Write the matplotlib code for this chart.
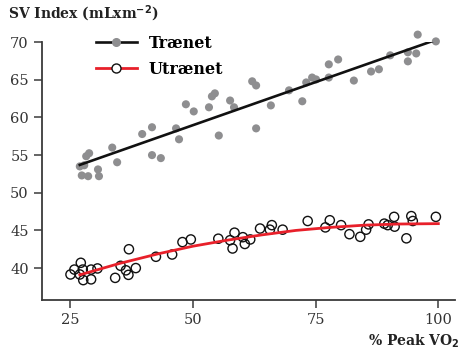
import matplotlib
matplotlib.use("Agg")
import matplotlib.pyplot as plt
from matplotlib.lines import Line2D

# trained group (grey dots)
tr_x = [27.0, 27.9, 28.3, 28.9, 27.4, 28.7, 30.7, 30.9, 33.6, 34.6, 39.7, 41.7, 41.7,
        43.5, 46.6, 47.2, 48.6, 50.2, 53.3, 53.9, 54.5, 55.3, 57.6, 58.4, 62.1, 62.9,
        62.9, 65.9, 69.6, 72.3, 73.1, 74.3, 75.1, 77.7, 77.7, 79.6, 82.8, 86.3, 87.9,
        90.2, 93.8, 93.8, 95.8, 95.5, 99.5]
tr_y = [53.5, 53.65, 54.85, 55.25, 52.3, 52.2, 53.1, 52.2, 56.0, 54.05, 57.8, 58.7, 55.0,
        54.6, 58.55, 57.1, 61.75, 60.8, 61.35, 62.8, 63.2, 57.6, 62.25, 61.35, 64.8, 64.25,
        58.55, 61.6, 63.6, 62.15, 64.65, 65.3, 65.05, 67.05, 65.3, 67.7, 64.9, 66.1, 66.4,
        68.25, 68.65, 67.45, 71.0, 68.5, 70.1]
tr_fit_x = [27.0, 99.5]
tr_fit_y = [53.7, 70.3]

# untrained group (open circles)
ut_x = [25.1, 25.9, 27.2, 27.0, 27.6, 27.7, 29.3, 29.3, 30.6, 34.2, 35.3, 36.4, 36.9,
        37.0, 38.4, 42.5, 45.8, 47.9, 49.6, 55.2, 57.6, 58.1, 58.5, 60.2, 60.6, 61.7,
        63.7, 65.7, 66.1, 68.3, 73.4, 77.0, 77.9, 80.2, 81.9, 84.1, 85.3, 85.8, 89.0,
        89.7, 91.1, 91.0, 93.5, 94.5, 94.8, 99.5]
ut_y = [39.15, 39.8, 40.7, 39.15, 39.8, 38.4, 39.8, 38.5, 39.95, 38.7, 40.3, 39.7, 39.1,
        42.5, 40.0, 41.5, 41.8, 43.45, 43.8, 43.9, 43.7, 42.6, 44.7, 44.1, 43.2, 43.8,
        45.25, 45.1, 45.7, 45.1, 46.25, 45.4, 46.35, 45.7, 44.5, 44.15, 45.1, 45.8, 45.9,
        45.7, 45.5, 46.8, 43.95, 46.9, 46.25, 46.8]
ut_fit_x = [27, 35, 43, 50, 57, 64, 71, 78, 85, 92, 100]
ut_fit_y = [39.1, 40.6, 41.9, 42.9, 43.7, 44.4, 45.0, 45.4, 45.7, 45.85, 45.9]

xticks = [25, 50, 75, 100]
yticks = [40, 45, 50, 55, 60, 65, 70]

plt.rcParams['font.family'] = ['DejaVu Serif']
grey = '#8e8e90'
axcol = '#3a3a3a'

fig = plt.figure(figsize=(4.62, 3.51), dpi=100)
ax = fig.add_axes([0.0909, 0.1453, 0.894, 0.7357])

ax.scatter(tr_x, tr_y, s=34, color=grey, edgecolors='none', zorder=2, clip_on=False)
ax.plot(tr_fit_x, tr_fit_y, color='#111111', lw=1.9, zorder=3)
ax.scatter(ut_x, ut_y, s=44, facecolors='none', edgecolors='#111111', linewidths=1.0,
           zorder=2, clip_on=False)
ax.plot(ut_fit_x, ut_fit_y, color='#e8202a', lw=2.0, zorder=3)

ax.set_xlim(19.3, 103.4)
ax.set_ylim(35.76, 70.05)
ax.set_xticks(xticks)
ax.set_yticks(yticks)
for s in ['top', 'right']:
    ax.spines[s].set_visible(False)
for s in ['left', 'bottom']:
    ax.spines[s].set_color(axcol)
    ax.spines[s].set_linewidth(1.3)
ax.tick_params(colors=axcol, labelcolor='#333333', labelsize=10.5, length=6, width=1.1)

handles = [Line2D([], [], color='#111111', lw=1.9, marker='o', markersize=5.5,
                  markerfacecolor=grey, markeredgecolor=grey),
           Line2D([], [], color='#e8202a', lw=2.0, marker='o', markersize=6.5,
                  markerfacecolor='white', markeredgecolor='#111111', markeredgewidth=1.0)]
leg = ax.legend(handles, ['Trænet', 'Utrænet'], loc='upper left', frameon=False,
                bbox_to_anchor=(88 / 462, 1 - 27 / 351), bbox_transform=fig.transFigure,
                handlelength=2.55, handletextpad=0.75, labelspacing=0.55, borderpad=0,
                prop={'weight': 'bold', 'size': 11.5})

fig.text(8 / 462, 1 - 14 / 351, 'SV Index (mLxm$^{\\mathbf{-2}}$)', fontsize=10, fontweight='bold',
         color='#222222', va='center', ha='left')
fig.text(460 / 462, 1 - 341 / 351, '% Peak VO$_\\mathbf{2}$', fontsize=10, fontweight='bold',
         color='#222222', va='center', ha='right')

fig.savefig('out.png', dpi=100)
